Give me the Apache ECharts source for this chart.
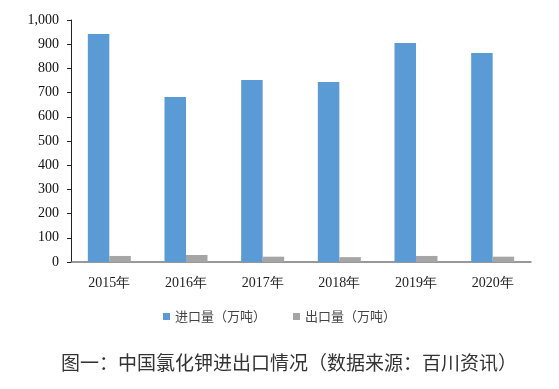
<!DOCTYPE html>
<html><head><meta charset="utf-8">
<script src="https://cdn.jsdelivr.net/npm/echarts@6/dist/echarts.min.js"></script>
<style>html,body{margin:0;padding:0;background:#fff}#c{width:559px;height:389px}</style>
</head><body><div id="c"></div>
<script>
var categories = ['2015年','2016年','2017年','2018年','2019年','2020年'];
var importVals = [942, 682, 752, 744, 905, 864];
var exportVals = [25, 29, 22, 20, 25, 22];
var seriesNames = ['进口量（万吨）','出口量（万吨）'];
var captionText = '图一：中国氯化钾进出口情况（数据来源：百川资讯）';

var chart = echarts.init(document.getElementById('c'), null, {renderer:'canvas'});
chart.setOption({
  animation:false,
  backgroundColor:'#fff',
  title:{text:captionText, left:56, top:348,
    textStyle:{fontFamily:'Noto Sans CJK SC', fontSize:19, fontWeight:'normal', color:'#333'}},
  legend:{data:seriesNames, top:305, left:'center', itemWidth:7, itemHeight:7, itemGap:27,
    icon:'rect', textStyle:{fontFamily:'Noto Sans CJK SC', fontSize:13, color:'#444'}},
  grid:{left:71, right:28, top:20, bottom:127},
  xAxis:{type:'category', data:categories,
    axisLine:{lineStyle:{color:'#777', width:1.5}}, axisTick:{show:false},
    axisLabel:{fontFamily:'Liberation Serif', fontSize:14, color:'#222', margin:14}},
  yAxis:{type:'value', min:0, max:1000, interval:100,
    axisLine:{show:true, lineStyle:{color:'#222'}},
    axisTick:{show:true, inside:false, length:4, lineStyle:{color:'#222'}},
    splitLine:{show:false},
    axisLabel:{fontFamily:'Liberation Serif', fontSize:14, color:'#111', margin:12,
      formatter:function(v){return v.toLocaleString('en-US');}}},
  series:[
    {name:seriesNames[0], type:'bar', data:importVals, barWidth:21.5, barGap:'0%',
      itemStyle:{color:'#5B9BD5'}},
    {name:seriesNames[1], type:'bar', data:exportVals, barWidth:21.5, barGap:'0%',
      itemStyle:{color:'#A5A5A5'}}
  ]
});
</script></body></html>
